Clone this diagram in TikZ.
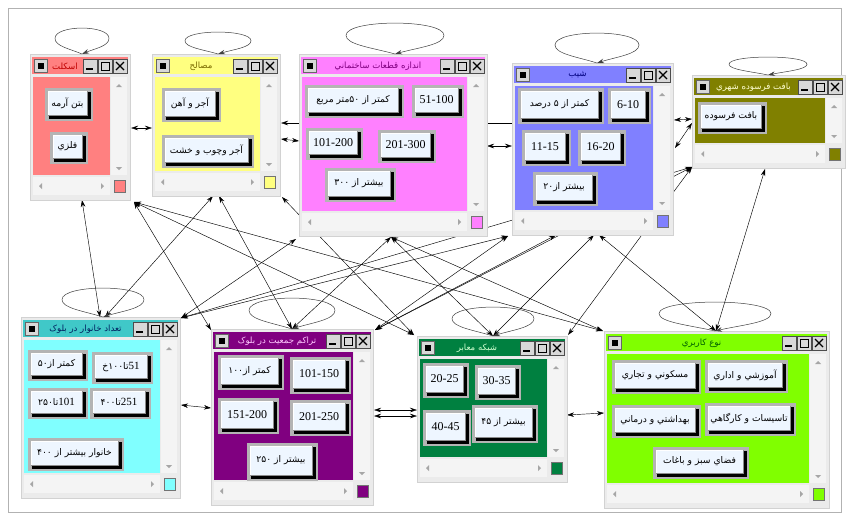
\documentclass[tikz,border=0pt]{standalone}
\usepackage{fontspec}
\setmainfont{DejaVu Sans}
\newfontfamily\fa[Script=Arabic]{DejaVu Sans}
\newfontfamily\numf{Liberation Serif}
\TeXXeTstate=1
\usetikzlibrary{arrows.meta}
\definecolor{wing}{HTML}{EBEBEB}
\definecolor{scrg}{HTML}{F4F4F4}
\definecolor{frameg}{HTML}{D2D2D2}
\definecolor{btng}{HTML}{D8D8D8}
\definecolor{btnframe}{HTML}{B4B4B4}
\definecolor{btnface}{HTML}{EEF6FF}
\definecolor{cA}{HTML}{FF8080}\definecolor{tA}{HTML}{C00000}
\definecolor{cM}{HTML}{FFFF80}\definecolor{tM}{HTML}{7A6A00}
\definecolor{cS}{HTML}{FF80FF}\definecolor{tS}{HTML}{800080}
\definecolor{cSh}{HTML}{8080FF}\definecolor{tSh}{HTML}{000080}
\definecolor{cB}{HTML}{808000}\definecolor{tB}{HTML}{FFFFD0}
\definecolor{cKt}{HTML}{40C8C8}\definecolor{cK}{HTML}{80FFFF}\definecolor{tK}{HTML}{002060}
\definecolor{cT}{HTML}{800080}\definecolor{tT}{HTML}{FFC8FF}
\definecolor{cNe}{HTML}{008040}\definecolor{tNe}{HTML}{D0FFD0}
\definecolor{cN}{HTML}{80FF00}\definecolor{tN}{HTML}{006000}
\newcommand\fat[1]{{\fa\fontsize{9.2}{11}\selectfont #1}}
\newcommand\ftt[1]{{\fa\fontsize{8.6}{10}\selectfont #1}}
\newcommand\nm[1]{{\numf\fontsize{12}{14}\selectfont #1}}
\newcommand\pd[1]{\beginL #1\endL}
\newcommand\ld[1]{\beginL{\numf\fontsize{11}{13}\selectfont #1}\endL}
\tikzset{
  lk/.style={line width=0.45pt,{Stealth[length=7pt,width=4.5pt]}-{Stealth[length=7pt,width=4.5pt]}},
  lkb/.style={line width=0.45pt,{Stealth[length=7pt,width=4.5pt]}-},
  lp/.style={draw=black!75,line width=0.5pt,-{Stealth[length=7pt,width=4.5pt]}},
  btntext/.style={inner sep=0pt,text=black},
  wintitle/.style={inner sep=0pt}
}
% name x y w h titlecol bodycol textcol text
\newcommand\mywin[9]{%
  \node[draw=frameg,fill=wing,minimum width=#4pt,minimum height=#5pt,anchor=north west,inner sep=0pt,line width=0.5pt] (#1) at (#2,#3) {};
  \fill[#6] ({#2+2},{#3+3}) rectangle ({#2+#4-2},{#3+20});
  \draw[black!60,fill=btng,line width=0.4pt] ({#2+4},{#3+5}) rectangle ({#2+17},{#3+18});
  \fill[black] ({#2+7.5},{#3+8.5}) rectangle ({#2+13.5},{#3+14.5});
  \draw[black!70,fill=btng,line width=0.4pt] ({#2+#4-47},{#3+5}) rectangle ({#2+#4-33},{#3+19});
  \fill[black] ({#2+#4-44},{#3+14}) rectangle ({#2+#4-37},{#3+16});
  \draw[black!70,fill=btng,line width=0.4pt] ({#2+#4-32},{#3+5}) rectangle ({#2+#4-18},{#3+19});
  \draw[black,line width=0.9pt] ({#2+#4-29},{#3+8}) rectangle ({#2+#4-21},{#3+16});
  \draw[black!70,fill=btng,line width=0.4pt] ({#2+#4-17},{#3+5}) rectangle ({#2+#4-3},{#3+19});
  \draw[black,line width=1.1pt] ({#2+#4-14},{#3+8}) -- ({#2+#4-6},{#3+16}) ({#2+#4-14},{#3+16}) -- ({#2+#4-6},{#3+8});
  \node[wintitle,text=#8] (#1t) at ({#2+(#4-30)/2},{#3+12}) {\ftt{#9}};
  \fill[#7] ({#2+3},{#3+23}) rectangle ({#2+#4-20},{#3+#5-25});
  \fill[scrg] ({#2+#4-19},{#3+23}) rectangle ({#2+#4-3},{#3+#5-25});
  \fill[black!35] ({#2+#4-14},{#3+33}) -- ({#2+#4-8},{#3+33}) -- ({#2+#4-11},{#3+30}) -- cycle;
  \fill[black!35] ({#2+#4-14},{#3+#5-33}) -- ({#2+#4-8},{#3+#5-33}) -- ({#2+#4-11},{#3+#5-30}) -- cycle;
  \fill[scrg] ({#2+3},{#3+#5-23}) rectangle ({#2+#4-20},{#3+#5-5});
  \fill[black!35] ({#2+9},{#3+#5-14}) -- ({#2+12},{#3+#5-17}) -- ({#2+12},{#3+#5-11}) -- cycle;
  \fill[black!35] ({#2+#4-26},{#3+#5-14}) -- ({#2+#4-29},{#3+#5-17}) -- ({#2+#4-29},{#3+#5-11}) -- cycle;
  \draw[fill=#7,draw=black!55,line width=0.5pt] ({#2+#4-16},{#3+#5-20}) rectangle ({#2+#4-5},{#3+#5-8});
}
% name x1 y1 x2 y2 text
\newcommand\mybtn[6]{%
  \fill[btnframe] (#2,#3) rectangle (#4,#5);
  \fill[black] ({#2+4},{#3+4}) rectangle ({#4-2},{#5-2});
  \fill[btnface] ({#2+3},{#3+3}) rectangle ({#4-6},{#5-6});
  \draw[white,line width=0.7pt] ({#2+3.3},{#5-6}) -- ({#2+3.3},{#3+3.3}) -- ({#4-6},{#3+3.3});
  \draw[black!45,line width=0.5pt] ({#2+3},{#5-6}) -- ({#4-6},{#5-6}) -- ({#4-6},{#3+3});
  \node[btntext] (#1) at ({(#2+#4)/2-1.5},{(#3+#5)/2-1.5}) {#6};
}
% name x y halfwidth height
\newcommand\sloop[5]{%
  \coordinate (#1) at (#2,#3);
  \draw[lp] (#1) .. controls ({#2-0.45*#4},{#3-0.2*#5}) and ({#2-#4},{#3-0.3*#5}) .. ({#2-#4},{#3-0.6*#5})
     .. controls ({#2-#4},{#3-1.13*#5}) and ({#2+#4},{#3-1.13*#5}) .. ({#2+#4},{#3-0.6*#5})
     .. controls ({#2+#4},{#3-0.3*#5}) and ({#2+0.45*#4},{#3-0.2*#5}) .. (#1);
}
\begin{document}
\begin{tikzpicture}[x=1pt,y=-1pt]
\useasboundingbox (0,0) rectangle (848,520);
\fill[white] (0,0) rectangle (848,520);
\draw[black!30,line width=0.6pt] (8,8) rectangle (841,512);
% ---- connector end points
\coordinate (aB) at (82,200);
\coordinate (aBR) at (134,202);
\coordinate (aR) at (131,128);
\coordinate (mL) at (152,128);
\coordinate (mB) at (213,196);
\coordinate (mB2) at (219,196);
\coordinate (mR1) at (281,123);
\coordinate (mR2) at (281,139);
\coordinate (mBR) at (282,197);
\coordinate (sL2) at (299,141);
\coordinate (sBL) at (296,239);
\coordinate (sB) at (391,237);
\coordinate (sR2) at (487,146);
\coordinate (shL1) at (512,123);
\coordinate (shL2) at (512,146);
\coordinate (shBL) at (508,236);
\coordinate (shB) at (594,235);
\coordinate (shB2) at (599,235);
\coordinate (shBm) at (556,235);
\coordinate (shR) at (674,120);
\coordinate (shR2) at (675,148);
\coordinate (bL) at (692,119);
\coordinate (bL2) at (692,123);
\coordinate (bBL) at (692,167);
\coordinate (bB) at (765,169);
\coordinate (khT1) at (100,317);
\coordinate (khT2) at (105,317);
\coordinate (khTR) at (181,318);
\coordinate (khR) at (181,405);
\coordinate (tTL) at (211,330);
\coordinate (tTc) at (292,329);
\coordinate (tTR) at (375,330);
\coordinate (tL) at (211,408);
\coordinate (tR1) at (374,410);
\coordinate (tR2) at (374,416);
\coordinate (nTL) at (414,335);
\coordinate (nTc) at (493,336);
\coordinate (nTR) at (568,335);
\coordinate (nL1) at (417,410);
\coordinate (nL2) at (417,416);
\coordinate (nR) at (567,415);
\coordinate (uTL) at (603,331);
\coordinate (uT) at (716,331);
\coordinate (uL) at (604,413);
% ---- connectors (drawn beneath the windows)
\draw[lk] (aB) -- (khT1);
\draw[lk] (mB) -- (khT2);
\draw[lk] (mB2) -- (tTc);
\draw[lk] (aBR) -- (tTL);
\draw[lk] (aBR) -- (nTL);
\draw[lk] (aBR) -- (uTL);
\draw[lk] (mBR) -- (nTL);
\draw[lk] (sBL) -- (khTR);
\draw[lk] (sB) -- (tTc);
\draw[lk] (sB) -- (uTL);
\draw[lk] (sB) -- (nTc);
\draw[lk] (shBL) -- (khTR);
\draw[lk] (shBL) -- (tTR);
\draw[lk] (shBm) -- (tTR);
\draw[lk] (shB) -- (nTc);
\draw[lk] (shB2) -- (uT);
\draw[lk] (bB) -- (uT);
\draw[lk] (bBL) -- (nTR);
\draw[lk] (bBL) -- (khTR);
\draw[lk] (bBL) -- (tTR);
\draw[lk] (aR) -- (mL);
\draw[lkb] (mR1) -- (shL1);
\draw[lk] (mR2) -- (sL2);
\draw[lk] (sR2) -- (shL2);
\draw[lk] (shR) -- (bL);
\draw[lk] (shR2) -- (bL2);
\draw[lk] (khR) -- (tL);
\draw[lk] (tR1) -- (nL1);
\draw[lk] (tR2) -- (nL2);
\draw[lk] (nR) -- (uL);
% ---- windows
\mywin{wA}{30}{54}{100}{146}{cA}{cA}{tA}{\beginR اسکلت\endR}
\mybtn{a1}{45}{88}{93}{121}{\fat{\beginR بتن آرمه\endR}}
\mybtn{a2}{50}{132}{88}{164}{\fat{\beginR فلزي\endR}}
\mywin{wM}{152}{54}{128}{142}{cM}{cM}{tM}{\beginR مصالح\endR}
\mybtn{m1}{162}{88}{221}{122}{\fat{\beginR آجر و آهن\endR}}
\mybtn{m2}{162}{135}{254}{168}{\fat{\beginR آجر وچوب و خشت\endR}}
\mywin{wS}{299}{54}{188}{182}{cS}{cS}{tS}{\beginR اندازه قطعات ساختماني\endR}
\mybtn{s1}{305}{85}{404}{118}{\fat{\beginR کمتر از \pd{۵۰}متر مربع\endR}}
\mybtn{s2}{412}{85}{464}{118}{\nm{51-100}}
\mybtn{s3}{306}{128}{363}{160}{\nm{101-200}}
\mybtn{s4}{378}{130}{436}{163}{\nm{201-300}}
\mybtn{s5}{325}{168}{396}{202}{\fat{\beginR بيشتر از \pd{۳۰۰}\endR}}
\mywin{wSh}{512}{63}{161}{172}{cSh}{cSh}{tSh}{\beginR شيب\endR}
\mybtn{h1}{518}{88}{604}{124}{\fat{\beginR کمتر از \pd{۵} درصد\endR}}
\mybtn{h2}{608}{88}{651}{124}{\nm{6-10}}
\mybtn{h3}{522}{130}{571}{166}{\nm{11-15}}
\mybtn{h4}{578}{130}{626}{166}{\nm{16-20}}
\mybtn{h5}{533}{172}{598}{206}{\fat{\beginR بيشتر از\pd{۲۰}\endR}}
\mywin{wB}{692}{75}{153}{93}{cB}{cB}{tB}{\beginR بافت فرسوده شهري\endR}
\mybtn{b1}{698}{102}{767}{134}{\fat{\beginR بافت فرسوده\endR}}
\mywin{wK}{21}{317}{159}{181}{cKt}{cK}{tK}{\beginR تعداد خانوار در بلوک\endR}
\mybtn{k1}{28}{350}{88}{381}{\fat{\beginR کمتر از\pd{۵۰}\endR}}
\mybtn{k2}{92}{352}{153}{384}{\fat{\beginR\ld{51}تا\pd{۱۰۰}خ\endR}}
\mybtn{k3}{28}{388}{88}{419}{\fat{\beginR\ld{101}تا\pd{۲۵۰}\endR}}
\mybtn{k4}{90}{388}{151}{419}{\fat{\beginR\ld{251}تا\pd{۴۰۰}\endR}}
\mybtn{k5}{28}{438}{124}{471}{\fat{\beginR خانوار بيشتر از \pd{۴۰۰}\endR}}
\mywin{wT}{211}{329}{162}{176}{cT}{cT}{tT}{\beginR تراکم جمعيت در بلوک\endR}
\mybtn{t1}{218}{355}{284}{390}{\fat{\beginR کمتر از\pd{۱۰۰}\endR}}
\mybtn{t2}{290}{357}{351}{394}{\nm{101-150}}
\mybtn{t3}{218}{398}{279}{434}{\nm{151-200}}
\mybtn{t4}{290}{400}{351}{436}{\nm{201-250}}
\mybtn{t5}{247}{443}{318}{481}{\fat{\beginR بيشتر از \pd{۲۵۰}\endR}}
\mywin{wNe}{417}{336}{150}{146}{cNe}{cNe}{tNe}{\beginR شبکه معابر\endR}
\mybtn{e1}{423}{363}{469}{398}{\nm{20-25}}
\mybtn{e2}{475}{365}{521}{400}{\nm{30-35}}
\mybtn{e3}{423}{410}{471}{446}{\nm{40-45}}
\mybtn{e4}{472}{405}{538}{443}{\fat{\beginR بيشتر از \pd{۴۵}\endR}}
\mywin{wN}{604}{331}{225}{177}{cN}{cN}{tN}{\beginR نوع کاربري\endR}
\mybtn{u1}{612}{360}{701}{394}{\fat{\beginR مسکوني و تجاري\endR}}
\mybtn{u2}{705}{360}{788}{393}{\fat{\beginR آموزشي و اداري\endR}}
\mybtn{u3}{612}{405}{701}{438}{\fat{\beginR بهداشتي و درماني\endR}}
\mybtn{u4}{705}{403}{796}{436}{\fat{\beginR تاسيسات و کارگاهي\endR}}
\mybtn{u5}{653}{447}{749}{479}{\fat{\beginR فضاي سبز و باغات\endR}}
% ---- self loops
\sloop{lA}{82}{54}{27}{26}
\sloop{lM}{218}{54}{33}{22}
\sloop{lS}{395}{54}{49}{31}
\sloop{lSh}{597}{63}{42}{30}
\sloop{lB}{768}{75}{39}{18}
\sloop{lK}{103}{317}{41}{29}
\sloop{lT}{292}{329}{43}{31}
\sloop{lNe}{493}{336}{41}{29}
\sloop{lN}{715}{331}{56}{29}
\end{tikzpicture}
\end{document}
